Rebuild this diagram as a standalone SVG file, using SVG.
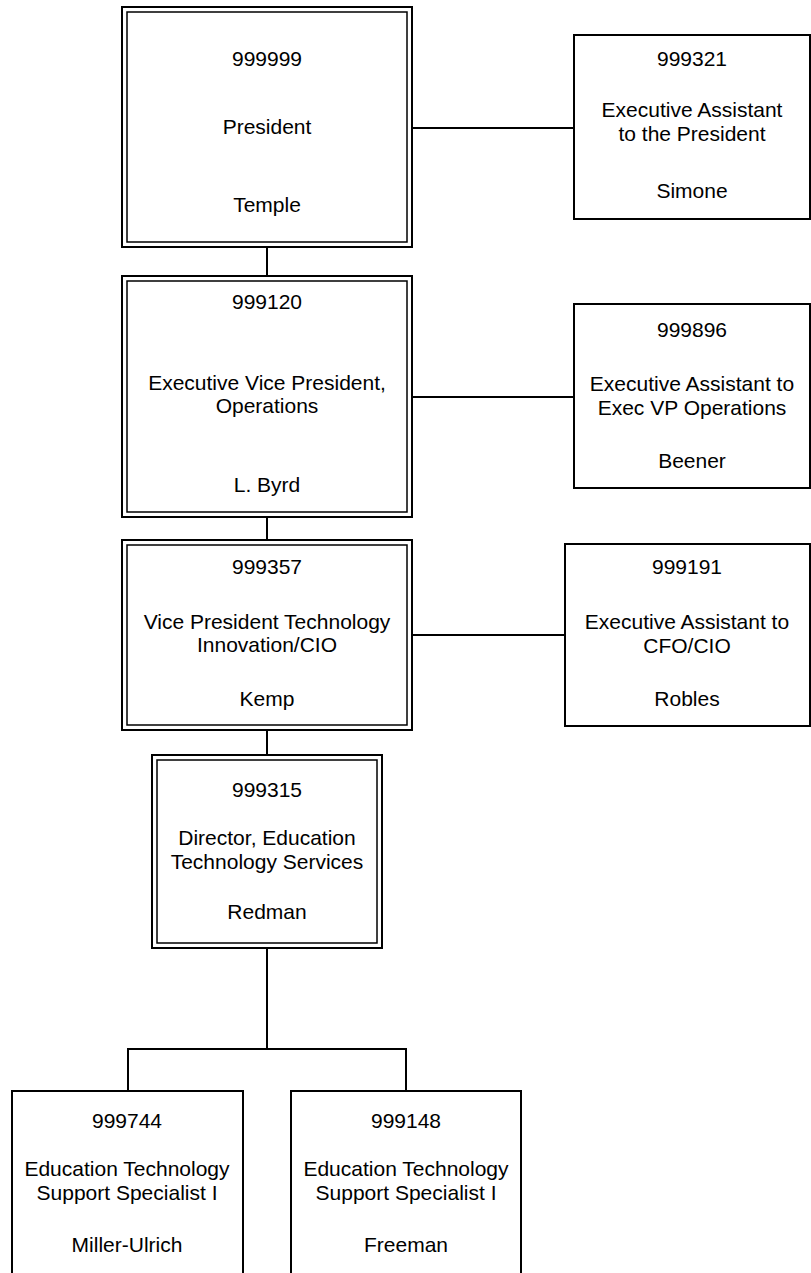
<svg xmlns="http://www.w3.org/2000/svg" width="811" height="1273" viewBox="0 0 811 1273">
<style>
.box{fill:#fff;stroke:#000;stroke-width:2}
.inner{fill:none;stroke:#000;stroke-width:1.5}
.c{fill:none;stroke:#000;stroke-width:2}
text{font-family:"Liberation Sans",Arial,sans-serif;font-size:21px;fill:#000;text-anchor:middle}
</style>
<rect width="811" height="1273" fill="#fff"/>
<g id="connectors">
<line class="c" x1="412" y1="128" x2="574" y2="128"/>
<line class="c" x1="267" y1="247" x2="267" y2="276"/>
<line class="c" x1="412" y1="397" x2="574" y2="397"/>
<line class="c" x1="267" y1="517" x2="267" y2="540"/>
<line class="c" x1="412" y1="635" x2="565" y2="635"/>
<line class="c" x1="267" y1="730" x2="267" y2="755"/>
<polyline class="c" points="267,948 267,1049"/>
<polyline class="c" points="128,1091 128,1049 406,1049 406,1091"/>
</g>
<g id="n999999">
<rect class="box" x="122" y="7" width="290" height="240"/>
<rect class="inner" x="127" y="12" width="280" height="230"/>
<text x="267" y="66">999999</text>
<text x="267" y="134">President</text>
<text x="267" y="212">Temple</text>
</g>
<g id="n999321">
<rect class="box" x="574" y="35" width="236" height="184"/>
<text x="692" y="66">999321</text>
<text x="692" y="117">Executive Assistant</text>
<text x="692" y="141">to the President</text>
<text x="692" y="198">Simone</text>
</g>
<g id="n999120">
<rect class="box" x="122" y="276" width="290" height="241"/>
<rect class="inner" x="127" y="281" width="280" height="231"/>
<text x="267" y="309">999120</text>
<text x="267" y="390">Executive Vice President,</text>
<text x="267" y="413">Operations</text>
<text x="267" y="492">L. Byrd</text>
</g>
<g id="n999896">
<rect class="box" x="574" y="304" width="236" height="184"/>
<text x="692" y="337">999896</text>
<text x="692" y="391">Executive Assistant to</text>
<text x="692" y="415">Exec VP Operations</text>
<text x="692" y="468">Beener</text>
</g>
<g id="n999357">
<rect class="box" x="122" y="540" width="290" height="190"/>
<rect class="inner" x="127" y="545" width="280" height="180"/>
<text x="267" y="574">999357</text>
<text x="267" y="629">Vice President Technology</text>
<text x="267" y="652">Innovation/CIO</text>
<text x="267" y="706">Kemp</text>
</g>
<g id="n999191">
<rect class="box" x="565" y="544" width="245" height="182"/>
<text x="687" y="574">999191</text>
<text x="687" y="629">Executive Assistant to</text>
<text x="687" y="653">CFO/CIO</text>
<text x="687" y="706">Robles</text>
</g>
<g id="n999315">
<rect class="box" x="152" y="755" width="230" height="193"/>
<rect class="inner" x="157" y="760" width="220" height="183"/>
<text x="267" y="797">999315</text>
<text x="267" y="845">Director, Education</text>
<text x="267" y="869">Technology Services</text>
<text x="267" y="919">Redman</text>
</g>
<g id="n999744">
<rect class="box" x="12" y="1091" width="231" height="200"/>
<text x="127" y="1128">999744</text>
<text x="127" y="1176">Education Technology</text>
<text x="127" y="1200">Support Specialist I</text>
<text x="127" y="1252">Miller-Ulrich</text>
</g>
<g id="n999148">
<rect class="box" x="291" y="1091" width="230" height="200"/>
<text x="406" y="1128">999148</text>
<text x="406" y="1176">Education Technology</text>
<text x="406" y="1200">Support Specialist I</text>
<text x="406" y="1252">Freeman</text>
</g>
</svg>
